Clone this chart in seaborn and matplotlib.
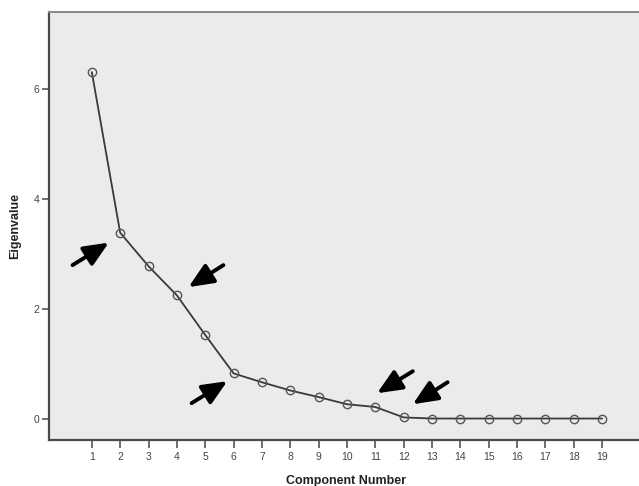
import matplotlib
matplotlib.use("Agg")
import matplotlib.pyplot as plt
import seaborn as sns
import pandas as pd

components = list(range(1, 20))
eigenvalues = [6.31, 3.39, 2.78, 2.25, 1.53, 0.83, 0.67, 0.52, 0.40, 0.27,
               0.22, 0.03, 0.01, 0.01, 0.01, 0.01, 0.01, 0.01, 0.01]
y_ticks = [0, 2, 4, 6]

# annotation arrows: (tail_x, tail_y) -> (tip_x, tip_y) in data coordinates
arrows = [
    ((0.32, 2.80), (1.60, 3.21)),
    ((5.64, 2.80), (4.41, 2.40)),
    ((4.52, 0.29), (5.78, 0.69)),
    ((12.32, 0.87), (11.06, 0.47)),
    ((13.55, 0.67), (12.32, 0.27)),
]

df = pd.DataFrame({"Component Number": components, "Eigenvalue": eigenvalues})

sns.set_style("white")
plt.rcParams["font.family"] = ["Liberation Sans", "DejaVu Sans"]

fig = plt.figure(figsize=(6.39, 4.86), dpi=100)
ax = fig.add_axes([0.0767, 0.0947, 0.93, 0.8813])
ax.set_facecolor("#ebebeb")

sns.lineplot(data=df, x="Component Number", y="Eigenvalue", ax=ax,
             color="#3a3a3a", linewidth=1.3, marker="o", markersize=6,
             markerfacecolor="none", markeredgecolor="#555555",
             markeredgewidth=1.0)

for (tx, ty), (hx, hy) in arrows:
    ax.annotate("", xy=(hx, hy), xytext=(tx, ty),
                arrowprops=dict(arrowstyle="-|>,head_length=1.15,head_width=0.5",
                                color="black", lw=2.8, shrinkA=0, shrinkB=0,
                                mutation_scale=13))

ax.set_xlim(-0.51, 20.45)
ax.set_ylim(-0.38, 7.41)
ax.set_xticks(components)
ax.set_xticklabels([str(c) for c in components])
ax.set_yticks(y_ticks)
ax.set_yticklabels([str(t) for t in y_ticks])

for side in ["left", "bottom"]:
    ax.spines[side].set_color("#4a4a4a")
    ax.spines[side].set_linewidth(1.6)
ax.spines["top"].set_color("#888888")
ax.spines["top"].set_linewidth(1.4)
ax.spines["right"].set_visible(False)

ax.tick_params(axis="x", direction="out", length=6, width=1.2, color="#555555",
               labelsize=7.5, labelcolor="#444444", pad=3, bottom=True)
ax.tick_params(axis="y", direction="out", length=5, width=1.2, color="#555555",
               labelsize=7.5, labelcolor="#444444", pad=2, left=True)

ax.set_xlabel("Component Number", fontsize=9, fontweight="bold", color="#222222", labelpad=9)
ax.set_ylabel("Eigenvalue", fontsize=9, fontweight="bold", color="#222222", labelpad=9)

fig.savefig("out.png", dpi=100, facecolor="white")
